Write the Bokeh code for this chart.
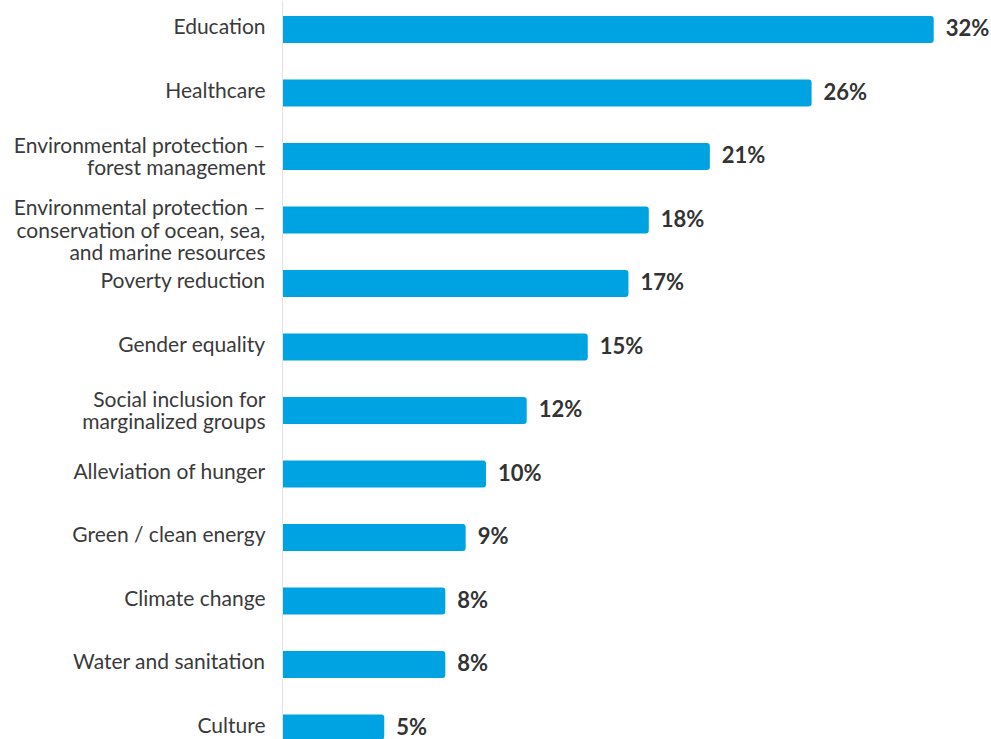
from bokeh.plotting import figure
from bokeh.models import ColumnDataSource, Range1d, Span
from bokeh.core.properties import value
from bokeh.embed import file_html
from bokeh.resources import INLINE

categories = [
    "Education",
    "Healthcare",
    "Environmental protection –\nforest management",
    "Environmental protection –\nconservation of ocean, sea,\nand marine resources",
    "Poverty reduction",
    "Gender equality",
    "Social inclusion for\nmarginalized groups",
    "Alleviation of hunger",
    "Green / clean energy",
    "Climate change",
    "Water and sanitation",
    "Culture",
]
shares = [32, 26, 21, 18, 17, 15, 12, 10, 9, 8, 8, 5]
value_labels = [f"{v}%" for v in shares]

idx = list(range(len(categories)))
nlines = [c.count("\n") + 1 for c in categories]
line_shift = {1: -4, 2: -1, 3: 9}
label_offsets = [line_shift[n] for n in nlines]

src = ColumnDataSource(dict(
    y=idx, v=shares, cat=categories, vl=value_labels,
    zero=[0] * len(idx), yoff=label_offsets,
))

W, H = 991, 739
px_per_unit = 20.35
x0_px = 282
row_px = 63.5
first_px = 29

p = figure(
    width=W, height=H, output_backend="svg", toolbar_location=None,
    x_range=Range1d(-x0_px / px_per_unit, (W - x0_px) / px_per_unit),
    y_range=Range1d((H - first_px) / row_px, -first_px / row_px),
    min_border=0, min_border_left=0, min_border_right=0,
    min_border_top=0, min_border_bottom=0,
)
p.outline_line_color = None
p.xaxis.visible = False
p.yaxis.visible = False
p.xgrid.grid_line_color = None
p.ygrid.grid_line_color = None
p.background_fill_color = "white"

p.add_layout(Span(location=0, dimension="height", line_color="#e3e3e3", line_width=1))

p.hbar(y="y", left=0, right="v", height=0.425, source=src,
       fill_color="#00a3e2", line_color=None, border_radius=(0, 3, 3, 0))

p.text(x="zero", y="y", text="cat", source=src, x_offset=-17, y_offset="yoff",
       text_align="right", text_baseline="middle",
       text_font=value("Lato"), text_font_size="21px", text_color="#3a3a3a",
       text_line_height=0.9)

p.text(x="v", y="y", text="vl", source=src, x_offset=12, y_offset=-2,
       text_align="left", text_baseline="middle",
       text_font=value("Lato"), text_font_style="bold", text_font_size="22px",
       text_color="#333333")

open("out.html", "w").write(file_html(p, INLINE))
